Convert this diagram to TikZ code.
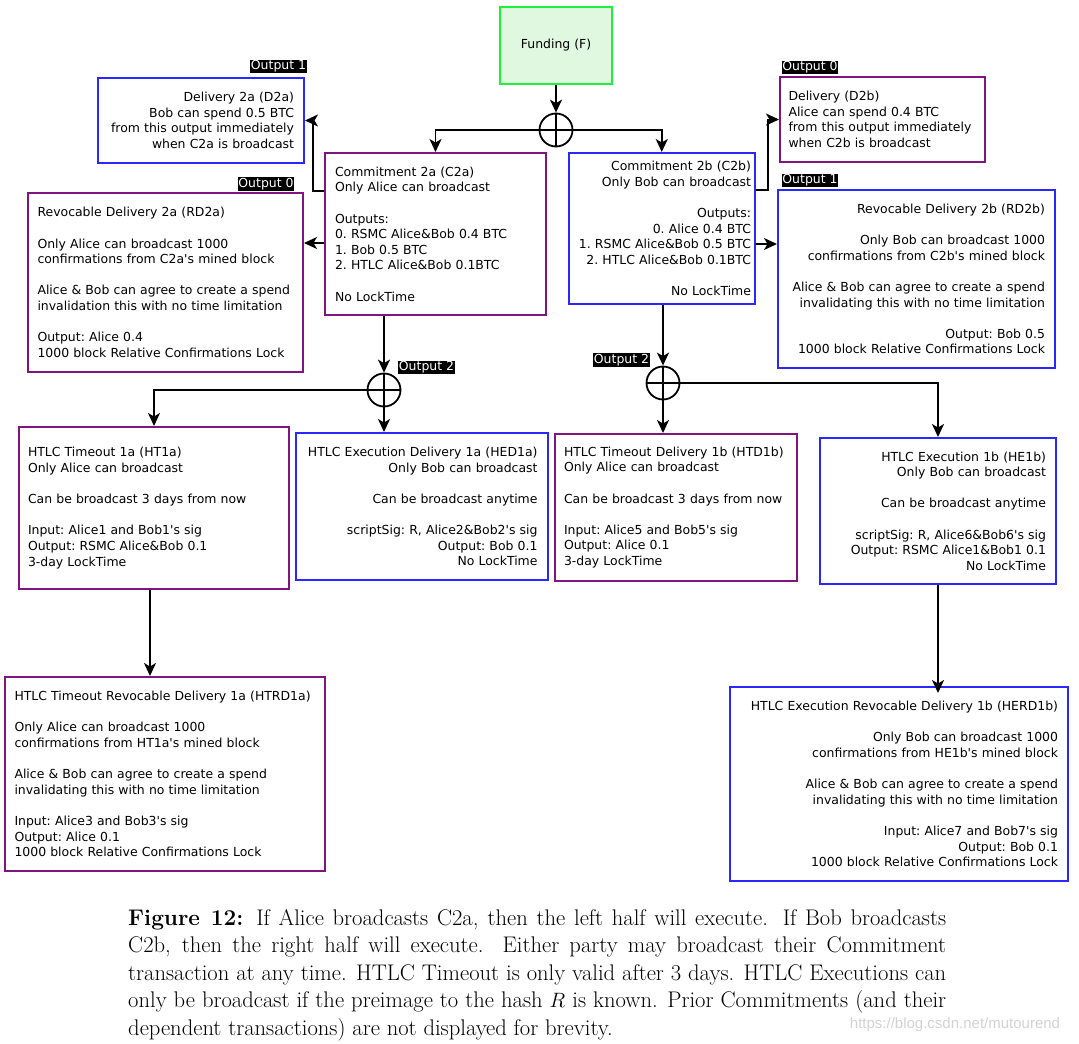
\documentclass[tikz,border=0pt]{standalone}
\usepackage{fontspec}
\newfontfamily\dvs{DejaVu Sans}
\newfontfamily\lsans{Liberation Sans}
\usetikzlibrary{arrows.meta,calc}
\definecolor{pur}{RGB}{128,20,128}
\definecolor{blu}{RGB}{40,40,255}
\definecolor{grnb}{RGB}{30,240,60}
\definecolor{grnf}{RGB}{224,248,224}
\begin{document}
\begin{tikzpicture}[x=1pt,y=-1pt,
  tx/.style={font=\dvs\fontsize{12.45}{15.6}\selectfont\frenchspacing},
  box/.style={tx, draw, line width=2pt, rectangle, inner sep=0pt},
  pbox/.style={box, draw=pur},
  bbox/.style={box, draw=blu},
  conn/.style={line width=1.8pt, -{Stealth[length=13pt,width=12pt,inset=3.5pt]}},
  xorc/.style={draw, circle, line width=1.8pt, minimum size=33pt, inner sep=0pt,
    path picture={\draw[line width=1.8pt] (path picture bounding box.north) -- (path picture bounding box.south) (path picture bounding box.west) -- (path picture bounding box.east);}},
  olab/.style={fill=black, text=white, font=\dvs\fontsize{12.45}{14}\selectfont, inner xsep=0.8pt, inner ysep=0.8pt}
]
\useasboundingbox (0,0) rectangle (1079,1044);

% Funding
\node[box, draw=grnb, fill=grnf, minimum width=112pt, minimum height=77pt] (f) at (556,45.5) {Funding (F)};

% XOR circles
\node[xorc] (c1) at (556,130) {};
\node[xorc] (c2) at (384,390) {};
\node[xorc] (c3) at (663,383) {};

% Commitment 2a
\node[pbox, minimum width=221pt, minimum height=162pt, text width=201pt, align=left] (c2a) at (435.5,234) {Commitment 2a (C2a)\\ Only Alice can broadcast\\[15.6pt] Outputs:\\ 0. RSMC Alice\&Bob 0.4 BTC\\ 1. Bob 0.5 BTC\\ 2. HTLC Alice\&Bob 0.1BTC\\[15.6pt] No LockTime};

% Commitment 2b
\node[bbox, minimum width=186.5pt, minimum height=151pt, text width=178.5pt, align=right] (c2b) at (661.75,228.5) {Commitment 2b (C2b)\\ Only Bob can broadcast\\[15.6pt] Outputs:~\\ 0. Alice 0.4 BTC\\ 1. RSMC Alice\&Bob 0.5 BTC\\ 2. HTLC Alice\&Bob 0.1BTC\\[15.6pt] No LockTime};

% Delivery 2a
\node[bbox, minimum width=206pt, minimum height=85pt, text width=186pt, align=right] (d2a) at (201,120.5) {Delivery 2a (D2a)\\ Bob can spend 0.5 BTC\\ from this output immediately\\ when C2a is broadcast};

% Revocable Delivery 2a
\node[pbox, minimum width=275pt, minimum height=179pt, text width=256pt, align=left] (rd2a) at (165.5,282.5) {Revocable Delivery 2a (RD2a)\\[15.6pt] Only Alice can broadcast 1000\\ confirmations from C2a's mined block\\[15.6pt] Alice \& Bob can agree to create a spend\\ invalidation this with no time limitation\\[15.6pt] Output: Alice 0.4\\ 1000 block Relative Confirmations Lock};

% Delivery 2b
\node[pbox, minimum width=205pt, minimum height=85pt, text width=188pt, align=left] (d2b) at (882.5,119.5) {Delivery (D2b)\\ Alice can spend 0.4 BTC\\ from this output immediately\\ when C2b is broadcast};

% Revocable Delivery 2b
\node[bbox, minimum width=277pt, minimum height=178pt, text width=257pt, align=right] (rd2b) at (916.5,279) {Revocable Delivery 2b (RD2b)\\[15.6pt] Only Bob can broadcast 1000\\ confirmations from C2b's mined block\\[15.6pt] Alice \& Bob can agree to create a spend\\ invalidating this with no time limitation\\[15.6pt] Output: Bob 0.5\\ 1000 block Relative Confirmations Lock};

% HTLC Timeout 1a
\node[pbox, minimum width=270pt, minimum height=162pt, text width=252pt, align=left] (ht1a) at (154,508) {HTLC Timeout 1a (HT1a)\\ Only Alice can broadcast\\[15.6pt] Can be broadcast 3 days from now\\[15.6pt] Input: Alice1 and Bob1's sig\\ Output: RSMC Alice\&Bob 0.1\\ 3-day LockTime};

% HTLC Execution Delivery 1a
\node[bbox, minimum width=252pt, minimum height=147pt, text width=231pt, align=right] (hed1a) at (422,506.5) {HTLC Execution Delivery 1a (HED1a)\\ Only Bob can broadcast\\[15.6pt] Can be broadcast anytime\\[15.6pt] scriptSig: R, Alice2\&Bob2's sig\\ Output: Bob 0.1\\ No LockTime};

% HTLC Timeout Delivery 1b
\node[pbox, minimum width=242pt, minimum height=147pt, text width=224pt, align=left] (htd1b) at (676,507.5) {HTLC Timeout Delivery 1b (HTD1b)\\ Only Alice can broadcast\\[15.6pt] Can be broadcast 3 days from now\\[15.6pt] Input: Alice5 and Bob5's sig\\ Output: Alice 0.1\\ 3-day LockTime};

% HTLC Execution 1b
\node[bbox, minimum width=236pt, minimum height=146pt, text width=216pt, align=right] (he1b) at (938,511) {HTLC Execution 1b (HE1b)\\ Only Bob can broadcast\\[15.6pt] Can be broadcast anytime\\[15.6pt] scriptSig: R, Alice6\&Bob6's sig\\ Output: RSMC Alice1\&Bob1 0.1\\ No LockTime};

% HTLC Timeout Revocable Delivery 1a
\node[pbox, minimum width=320pt, minimum height=194pt, text width=301pt, align=left] (htrd1a) at (165,774) {HTLC Timeout Revocable Delivery 1a (HTRD1a)\\[15.6pt] Only Alice can broadcast 1000\\ confirmations from HT1a's mined block\\[15.6pt] Alice \& Bob can agree to create a spend\\ invalidating this with no time limitation\\[15.6pt] Input: Alice3 and Bob3's sig\\ Output: Alice 0.1\\ 1000 block Relative Confirmations Lock};

% HTLC Execution Revocable Delivery 1b
\node[bbox, minimum width=338pt, minimum height=194pt, text width=318pt, align=right] (herd1b) at (899,784) {HTLC Execution Revocable Delivery 1b (HERD1b)\\[15.6pt] Only Bob can broadcast 1000\\ confirmations from HE1b's mined block\\[15.6pt] Alice \& Bob can agree to create a spend\\ invalidating this with no time limitation\\[15.6pt] Input: Alice7 and Bob7's sig\\ Output: Bob 0.1\\ 1000 block Relative Confirmations Lock};

% Output labels
\node[olab] (o1a) at (278.5,66.5) {Output 1};
\node[olab] (o0a) at (266,184) {Output 0};
\node[olab] (o2a) at (426.5,367.5) {Output 2};
\node[olab] (o0b) at (810,67.5) {Output 0};
\node[olab] (o1b) at (810,180.5) {Output 1};
\node[olab] (o2b) at (621.5,360) {Output 2};

% Connectors
\draw[conn] (f.south) -- (c1.north);
\draw[conn] (c1.west) -| (c2a.north);
\draw[conn] (c1.east) -| (c2b.north);
\draw[conn] ([yshift=-39pt]c2a.north west) -- ++(-11,0) |- (d2a.east);
\draw[conn] (c2a.west |- 0,243) -- (rd2a.east |- 0,243);
\draw[conn] (c2.north |- c2a.south) -- (c2.north);
\draw[conn] (c2.west) -| (ht1a.north);
\draw[conn] (c2.south) -- (c2.south |- hed1a.north);
\draw[conn] ([yshift=-38pt]c2b.north east) -- ++(12,0) |- (d2b.west);
\draw[conn] (c2b.east |- 0,244) -- (rd2b.west |- 0,244);
\draw[conn] (c3.north |- c2b.south) -- (c3.north);
\draw[conn] (c3.south) -- (c3.south |- htd1b.north);
\draw[conn] (c3.east) -| (he1b.north);
\draw[conn] ([xshift=-4pt]ht1a.south) -- ([xshift=-15pt]htrd1a.north);
\draw[conn] (he1b.south) -- ([yshift=-7pt]herd1b.north -| he1b.south);

% Caption
\node[anchor=base west, text width=818pt, align=justify, inner sep=0pt, font=\fontsize{22.6}{27.5}\selectfont] (cap) at (128,925) {\textbf{Figure 12:} If Alice broadcasts C2a, then the left half will execute. If Bob broadcasts C2b, then the right half will execute. Either party may broadcast their Commitment transaction at any time. HTLC Timeout is only valid after 3 days. HTLC Executions can only be broadcast if the preimage to the hash $R$ is known. Prior Commitments (and their dependent transactions) are not displayed for brevity.};

% Watermark
\node[font=\lsans\fontsize{15}{18}\selectfont, text=gray!35, inner sep=0pt] (wm) at (955,1025) {https://blog.csdn.net/mutourend};
\end{tikzpicture}
\end{document}
